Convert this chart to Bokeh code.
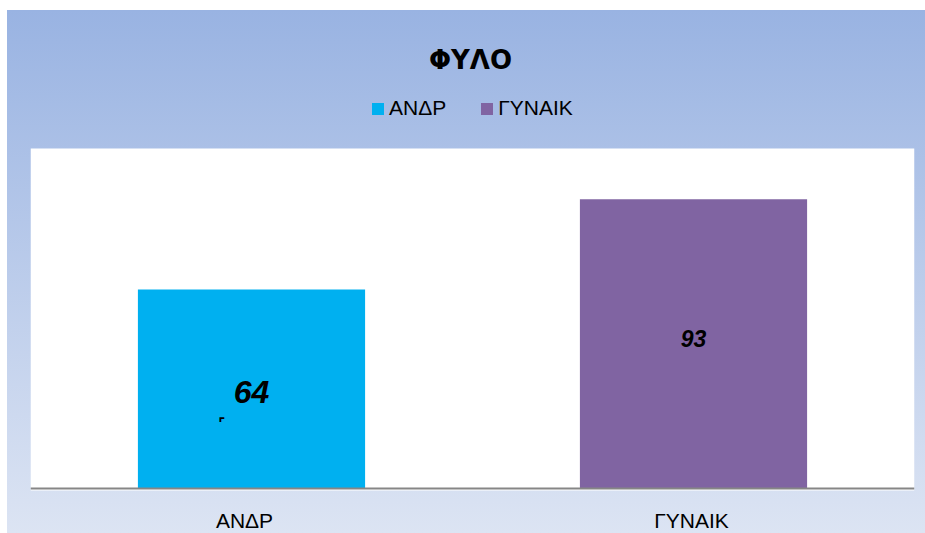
from bokeh.plotting import figure
from bokeh.models import (ColumnDataSource, Label, Span, Legend, LegendItem,
                          BoxAnnotation, Range1d)
from bokeh.core.properties import value
from bokeh.embed import file_html
from bokeh.resources import INLINE

# ---- data ----
categories = ["ΑΝΔΡ", "ΓΥΝΑΙΚ"]
counts = [64, 93]
title_text = "ΦΥΛΟ"

# ---- styles ----
colors = ["#00B0F0", "#8064A2"]
label_sizes = ["32px", "23px"]
label_dy = [3, -5]
cat_dx = [-7, -2]
FONT = "Liberation Sans"

W, H = 925, 533
# value axis: 0 sits at 488px, 3.11 px per unit; white plot area 148..490px
p = figure(x_range=categories, y_range=Range1d(-45 / 3.11, 488 / 3.11),
           width=W, height=H, output_backend="svg", toolbar_location=None,
           x_axis_location=None, y_axis_location=None,
           min_border_left=30, min_border_right=11,
           min_border_top=0, min_border_bottom=0)
p.styles = {
    "background-color": "white",
    "background-image": "linear-gradient(to bottom, #99B3E2 0%, #DCE4F3 100%)",
    "background-position": "7px 10px",
    "background-size": "918px 523px",
    "background-repeat": "no-repeat",
}
p.border_fill_alpha = 0
p.background_fill_alpha = 0
p.outline_line_color = None
p.xgrid.visible = False
p.ygrid.visible = False

# white plot area
p.add_layout(BoxAnnotation(bottom=-2 / 3.11, top=340 / 3.11, fill_color="white",
                           fill_alpha=1, line_color=None, level="underlay"))

src = ColumnDataSource(dict(
    cat=categories, val=counts, color=colors,
    half=[v / 2 for v in counts], txt=[str(v) for v in counts],
    size=label_sizes, dy=label_dy, dx=cat_dx, zero=[0] * len(categories)))

bars = p.vbar(x="cat", top="val", width=0.514, source=src, fill_color="color",
              line_color=None)

p.add_layout(Span(location=0, dimension="width", line_color="#868686", line_width=2))

# value labels
p.text(x="cat", y="half", text="txt", source=src, text_font=value(FONT),
       text_font_size="size", text_font_style="bold italic", text_color="black",
       text_align="center", text_baseline="middle", y_offset="dy")

# category labels under the axis
p.text(x="cat", y="zero", text="cat", source=src, text_font=value(FONT),
       text_font_size="21px", text_color="black", text_align="center",
       text_baseline="middle", x_offset="dx", y_offset=32)

leg = Legend(items=[LegendItem(label=c, renderers=[bars], index=i)
                    for i, c in enumerate(categories)])
leg.location = (340, 413)
leg.orientation = "horizontal"
leg.glyph_width = 15
leg.glyph_height = 15
leg.label_height = 22
leg.label_standoff = 4
leg.spacing = 33
leg.padding = 0
leg.margin = 0
leg.background_fill_alpha = 0
leg.border_line_alpha = 0
leg.label_text_font = FONT
leg.label_text_font_size = "21px"
leg.label_text_color = "black"
p.add_layout(leg, "center")

p.add_layout(Label(x=440, y=473.5, x_units="screen", y_units="screen", text=title_text,
                   text_font="DejaVu Sans", text_font_size="26px", text_font_style="bold",
                   text_align="center", text_baseline="middle", text_color="black"))

p.add_layout(Label(x=191.5, y=108, x_units="screen", y_units="screen", text="˹",
                   text_font="DejaVu Sans", text_font_size="28px", text_font_style="bold",
                   text_align="center", text_baseline="middle", text_color="black"))

open("out.html", "w").write(file_html(p, INLINE))
